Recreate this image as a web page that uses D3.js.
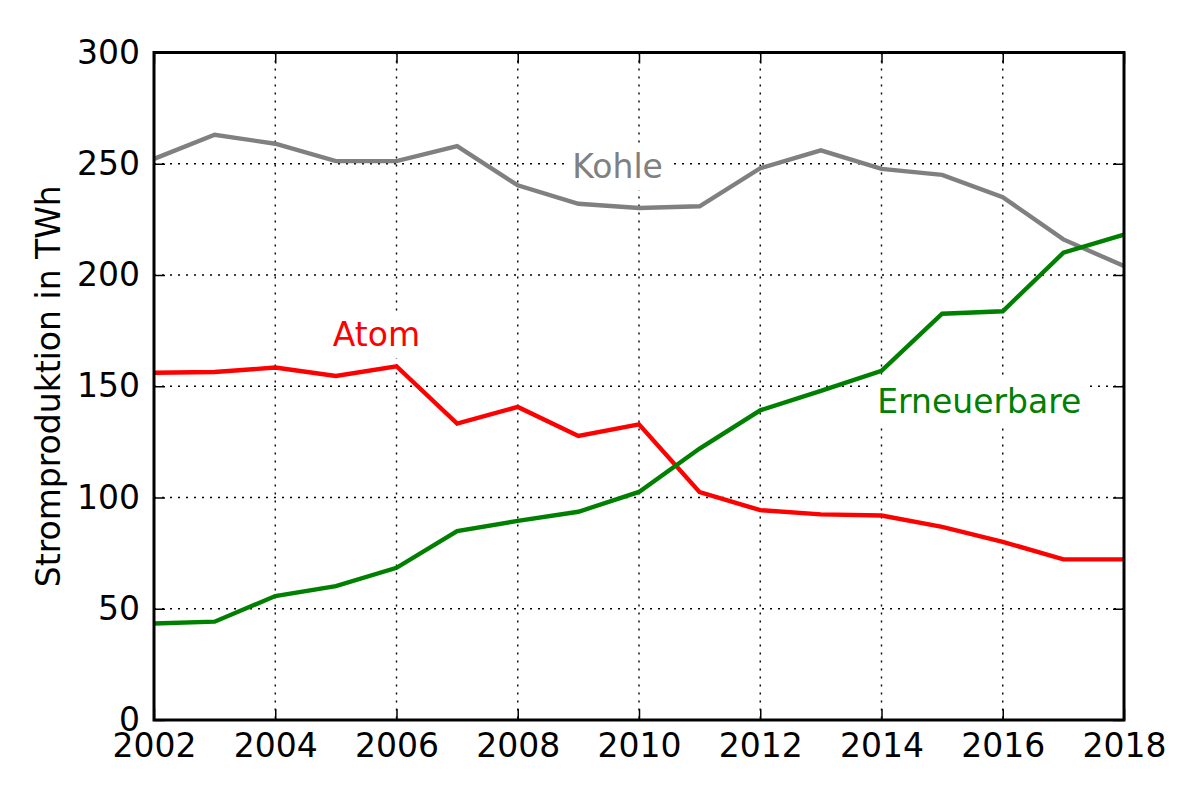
<!DOCTYPE html>
<html>
<head>
<meta charset="utf-8">
<script src="https://cdn.jsdelivr.net/npm/d3@7"></script>
<style>
  body { margin: 0; background: #fff; }
  text { font-family: "DejaVu Sans", sans-serif; }
</style>
</head>
<body>
<svg id="chart" width="1200" height="800"></svg>
<script>
const years = d3.range(2002, 2019);
const kohle = [252.2, 263.0, 259.0, 251.2, 251.2, 257.9, 240.3, 232.0, 230.1, 230.9, 248.0, 256.0, 247.7, 245.0, 235.0, 216.0, 204.0];
const atom = [156.1, 156.4, 158.4, 154.6, 159.0, 133.2, 140.7, 127.7, 132.9, 102.4, 94.3, 92.4, 91.9, 86.8, 80.1, 72.2, 72.2];
const erneuerbare = [43.4, 44.2, 55.7, 60.2, 68.4, 84.9, 89.5, 93.6, 102.5, 122.0, 139.2, 147.9, 156.9, 182.6, 183.7, 210.0, 218.1];
const xTicks = [2002, 2004, 2006, 2008, 2010, 2012, 2014, 2016, 2018];
const yTicks = [0, 50, 100, 150, 200, 250, 300];

const series = [
  { name: 'Kohle', values: kohle, color: '#808080', label: [2008.9, 243.4] },
  { name: 'Atom', values: atom, color: '#ff0000', label: [2004.95, 168] },
  { name: 'Erneuerbare', values: erneuerbare, color: '#008000', label: [2013.93, 137.9] }
];

const svg = d3.select('#chart');
const margin = { top: 52.5, right: 76, bottom: 80, left: 154 };
const width = 1200 - margin.left - margin.right;
const height = 800 - margin.top - margin.bottom;

const g = svg.append('g')
  .attr('transform', `translate(${margin.left},${margin.top})`);

const x = d3.scaleLinear().domain([2002, 2018]).range([0, width]);
const y = d3.scaleLinear().domain([0, 300]).range([height, 0]);

// grid
g.append('g').selectAll('line')
  .data(xTicks.slice(1, -1))
  .join('line')
  .attr('x1', d => x(d)).attr('x2', d => x(d))
  .attr('y1', 0).attr('y2', height)
  .attr('stroke', '#000').attr('stroke-width', 1.4)
  .attr('stroke-dasharray', '2,6');
g.append('g').selectAll('line')
  .data(yTicks.slice(1, -1))
  .join('line')
  .attr('x1', 0).attr('x2', width)
  .attr('y1', d => y(d)).attr('y2', d => y(d))
  .attr('stroke', '#000').attr('stroke-width', 1.4)
  .attr('stroke-dasharray', '2,6');

// axes, ticks inward
const fmt = d3.format('d');
const styleAxis = sel => {
  sel.select('.domain').remove();
  sel.selectAll('.tick line').attr('stroke', '#000').attr('stroke-width', 1.5);
  sel.selectAll('.tick text').attr('font-size', 33).attr('fill', '#000')
    .style('font-family', '"DejaVu Sans", sans-serif');
};
g.append('g').attr('transform', `translate(0,${height})`)
  .call(d3.axisBottom(x).tickValues(xTicks).tickFormat(fmt).tickSizeInner(-11).tickSizeOuter(0).tickPadding(14))
  .call(styleAxis);
g.append('g')
  .call(d3.axisLeft(y).tickValues(yTicks).tickSizeInner(-11).tickSizeOuter(0).tickPadding(14))
  .call(styleAxis);
g.append('g')
  .call(d3.axisTop(x).tickValues(xTicks).tickFormat('').tickSizeInner(-11).tickSizeOuter(0))
  .call(styleAxis);
g.append('g').attr('transform', `translate(${width},0)`)
  .call(d3.axisRight(y).tickValues(yTicks).tickFormat('').tickSizeInner(-11).tickSizeOuter(0))
  .call(styleAxis);

// lines
const line = d3.line().x((d, i) => x(years[i])).y(d => y(d));
g.append('g').selectAll('path')
  .data(series)
  .join('path')
  .attr('d', d => line(d.values))
  .attr('fill', 'none')
  .attr('stroke', d => d.color)
  .attr('stroke-width', 4.4)
  .attr('stroke-linejoin', 'miter');

// labels with white box
const labels = g.append('g').selectAll('g')
  .data(series)
  .join('g')
  .attr('transform', d => `translate(${x(d.label[0])},${y(d.label[1])})`);
labels.append('text')
  .attr('font-size', 33)
  .attr('fill', d => d.color)
  .text(d => d.name);
labels.each(function () {
  const t = d3.select(this).select('text');
  const b = t.node().getBBox();
  d3.select(this).insert('rect', 'text')
    .attr('x', b.x - 6).attr('y', b.y - 4)
    .attr('width', b.width + 12).attr('height', b.height + 8)
    .attr('fill', '#fff');
});

// frame
g.append('rect')
  .attr('width', width).attr('height', height)
  .attr('fill', 'none').attr('stroke', '#000').attr('stroke-width', 3);

// y label
svg.append('text')
  .attr('transform', `translate(60,${margin.top + height / 2}) rotate(-90)`)
  .attr('text-anchor', 'middle')
  .attr('font-size', 33)
  .text('Stromproduktion in TWh');
</script>
</body>
</html>
